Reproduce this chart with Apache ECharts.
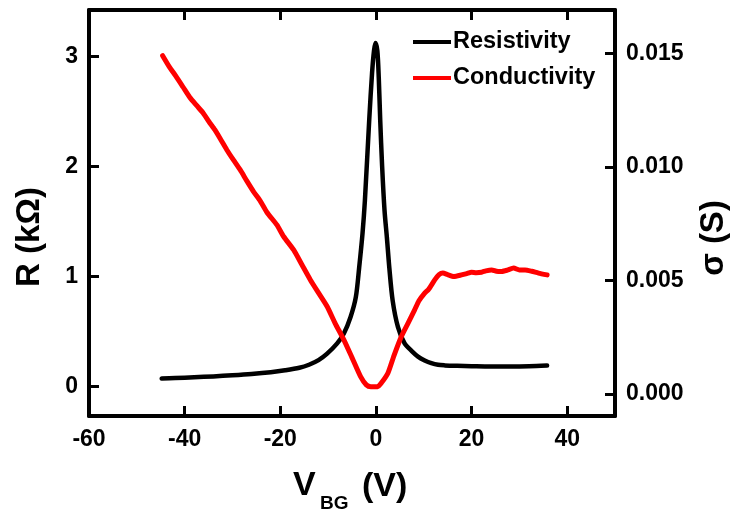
<!DOCTYPE html>
<html><head><meta charset="utf-8">
<script src="https://cdn.jsdelivr.net/npm/echarts@6/dist/echarts.min.js"></script>
<style>html,body{margin:0;padding:0;background:#fff}#c{width:737px;height:515px}</style>
</head><body><div id="c"></div>
<script>
const seriesNames = ['Resistivity', 'Conductivity'];
const xTickLabels = [-60, -40, -20, 0, 20, 40];
const xTicks = [-40, -20, 0, 20, 40];
const rTicks = [0, 1, 2, 3];
const sTicks = [0, 0.005, 0.010, 0.015];

const vbgR = [-44.8,-42,-38,-34,-30,-26,-22,-19,-16,-14,-12,-10.2,-8.1,-6.7,-5.3,-4.2,-3.5,-2.8,-2.3,-1.4,-0.8,-0.4,-0.1,0.3,0.6,0.9,1.3,1.8,2.3,2.8,3.5,4.6,6.0,7.5,8.8,10.2,11.6,13,14.4,17,20,24,28,32,35.8];
const resistivity = [0.070,0.075,0.082,0.090,0.100,0.112,0.128,0.145,0.168,0.196,0.238,0.297,0.39,0.48,0.63,0.81,1.08,1.39,1.69,2.42,2.85,3.05,3.12,3.05,2.8,2.42,2.0,1.6,1.35,1.08,0.78,0.54,0.39,0.32,0.27,0.235,0.21,0.195,0.19,0.186,0.183,0.18,0.18,0.182,0.188];

const vbgS = [-44.6,-43.2,-41.8,-40.3,-38.9,-37.5,-36.1,-34.9,-33.7,-32.4,-31.2,-29.8,-28.4,-27,-25.6,-24.2,-22.8,-20.7,-19.3,-17.2,-15.5,-13.7,-12,-10.2,-8.5,-6.7,-5,-3.2,-2,-1.05,0.35,1.2,2.5,3.8,5.3,6.7,8.1,9,10.2,11,12.3,13.2,14,15,16.3,17.9,19,20,21,22.1,23,24.2,25.2,26.3,27.5,28.8,30,31.2,32.6,34,35.8];
const conductivity = [0.01489,0.01440,0.01398,0.01350,0.01305,0.01270,0.01236,0.01198,0.01163,0.01118,0.01075,0.01030,0.00987,0.00938,0.00891,0.0085,0.0080,0.00744,0.00693,0.00634,0.0057,0.00502,0.00445,0.00385,0.0031,0.00238,0.0016,0.00076,0.0004,0.00032,0.00032,0.0005,0.00091,0.0017,0.00252,0.00311,0.0037,0.0041,0.00444,0.0046,0.00502,0.00525,0.00532,0.00525,0.00517,0.00524,0.0053,0.00536,0.00534,0.00536,0.00542,0.00546,0.0054,0.00539,0.00545,0.00554,0.00546,0.00546,0.0054,0.00532,0.00524];

const FONT = '"Liberation Sans", Arial, sans-serif';
const chart = echarts.init(document.getElementById('c'), null, {renderer: 'canvas'});
const axisLineStyle = {color: '#000', width: 4};
const tickStyle = {color: '#000', width: 3};
const lbl = {color: '#000', fontFamily: FONT, fontWeight: 'bold', fontSize: 23};

chart.setOption({
  animation: false,
  backgroundColor: '#fff',
  grid: {left: 89, right: 122, top: 10, bottom: 99, containLabel: false},
  legend: {
    orient: 'vertical', left: 413, top: 30, padding: 0,
    icon: 'rect', itemWidth: 38, itemHeight: 4, itemGap: 12,
    textStyle: {color: '#000', fontFamily: FONT, fontWeight: 'bold', fontSize: 23.5, padding: [0, 0, 0, -3]},
    data: seriesNames
  },
  xAxis: [{
    type: 'value', min: -60, max: 50, position: 'bottom',
    axisLine: {show: true, onZero: false, lineStyle: axisLineStyle},
    axisTick: {show: true, inside: true, length: 10, lineStyle: tickStyle, customValues: xTicks},
    axisLabel: Object.assign({margin: 12, customValues: xTickLabels}, lbl),
    splitLine: {show: false}
  }, {
    type: 'value', min: -60, max: 50, position: 'top',
    axisLine: {show: true, onZero: false, lineStyle: axisLineStyle},
    axisTick: {show: true, inside: true, length: 10, lineStyle: tickStyle, customValues: xTicks},
    axisLabel: {show: false},
    splitLine: {show: false}
  }],
  yAxis: [{
    type: 'value', min: -0.27, max: 3.42, position: 'left',
    axisLine: {show: true, onZero: false, lineStyle: axisLineStyle},
    axisTick: {show: true, inside: true, length: 10, lineStyle: tickStyle, customValues: rTicks},
    axisLabel: Object.assign({margin: 11, customValues: rTicks}, lbl),
    splitLine: {show: false}
  }, {
    type: 'value', min: -0.00097, max: 0.0169, position: 'right',
    axisLine: {show: true, onZero: false, lineStyle: axisLineStyle},
    axisTick: {show: true, inside: true, length: 10, lineStyle: tickStyle, customValues: sTicks},
    axisLabel: Object.assign({margin: 11, customValues: sTicks, formatter: v => v.toFixed(3)}, lbl),
    splitLine: {show: false}
  }],
  series: [{
    name: seriesNames[0], type: 'line', xAxisIndex: 0, yAxisIndex: 0,
    data: vbgR.map((v, i) => [v, resistivity[i]]),
    showSymbol: false, smooth: 0.3, itemStyle: {color: '#000'},
    lineStyle: {color: '#000', width: 4.5, cap: 'round', join: 'round'}
  }, {
    name: seriesNames[1], type: 'line', xAxisIndex: 0, yAxisIndex: 1,
    data: vbgS.map((v, i) => [v, conductivity[i]]),
    showSymbol: false, smooth: 0.2, itemStyle: {color: '#ff0000'},
    lineStyle: {color: '#ff0000', width: 5, cap: 'round', join: 'round'}
  }],
  graphic: [
    {type: 'text', x: 30, y: 237, rotation: Math.PI / 2,
     style: {text: 'R (kΩ)', fill: '#000', font: 'bold 33px ' + FONT, textAlign: 'center', textVerticalAlign: 'middle'}},
    {type: 'text', x: 714, y: 238, rotation: Math.PI / 2,
     style: {text: 'σ (S)', fill: '#000', font: 'bold 33px ' + FONT, textAlign: 'center', textVerticalAlign: 'middle'}},
    {type: 'text', x: 293, y: 486,
     style: {text: 'V', fill: '#000', font: 'bold 34px ' + FONT, textAlign: 'left', textVerticalAlign: 'middle'}},
    {type: 'text', x: 320, y: 504,
     style: {text: 'BG', fill: '#000', font: 'bold 19px ' + FONT, textAlign: 'left', textVerticalAlign: 'middle'}},
    {type: 'text', x: 362, y: 487,
     style: {text: '(V)', fill: '#000', font: 'bold 34px ' + FONT, textAlign: 'left', textVerticalAlign: 'middle'}}
  ]
});
</script></body></html>
